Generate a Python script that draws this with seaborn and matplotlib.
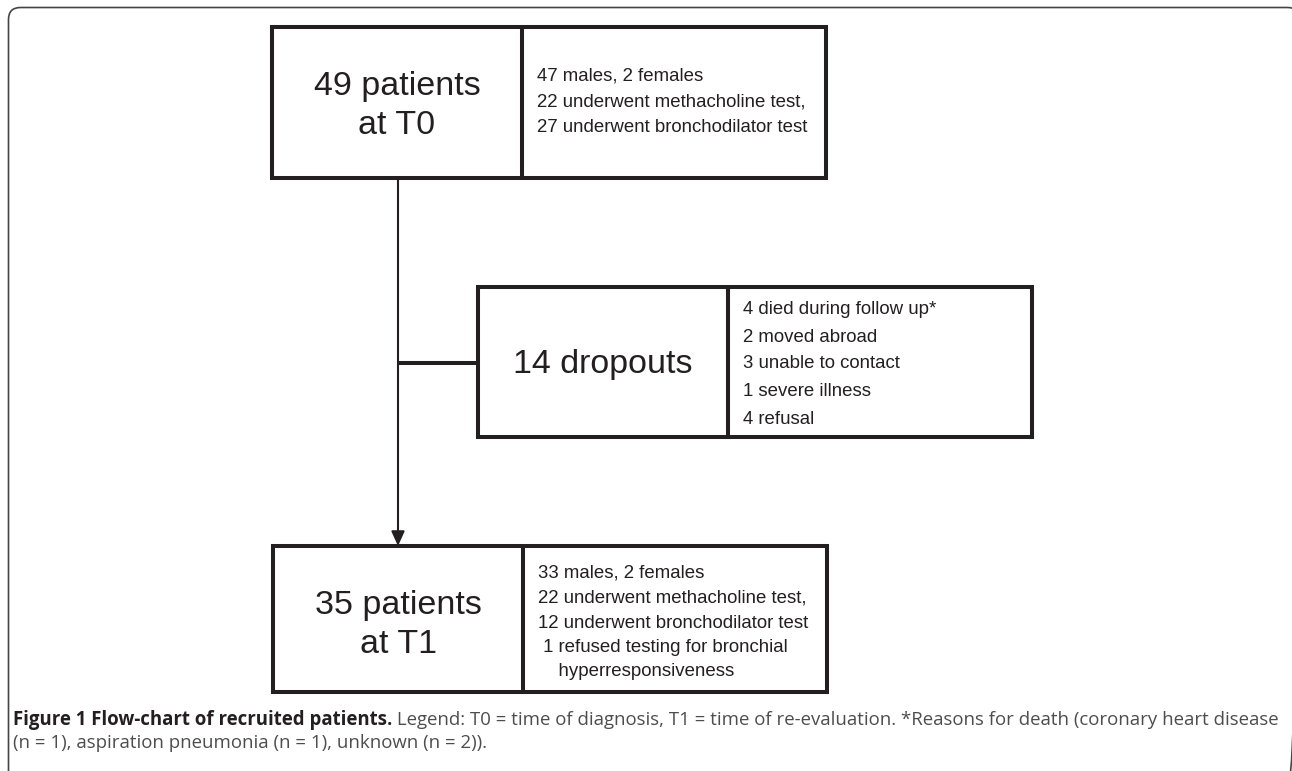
import matplotlib
matplotlib.use("Agg")
import matplotlib.pyplot as plt
import seaborn as sns
from matplotlib.patches import Rectangle, FancyBboxPatch, FancyArrowPatch

# flow-chart content
stage_titles = ["49 patients\nat T0", "14 dropouts", "35 patients\nat T1"]
t0_details = ["47 males, 2 females",
              "22 underwent methacholine test,",
              "27 underwent bronchodilator test"]
dropout_details = ["4 died during follow up*",
                   "2 moved abroad",
                   "3 unable to contact",
                   "1 severe illness",
                   "4 refusal"]
t1_details = ["33 males, 2 females",
              "22 underwent methacholine test,",
              "12 underwent bronchodilator test",
              " 1 refused testing for bronchial",
              "    hyperresponsiveness"]
caption_bold = "Figure 1 Flow-chart of recruited patients."
caption_rest = (" Legend: T0 = time of diagnosis, T1 = time of re-evaluation. "
                "*Reasons for death (coronary heart disease")
caption_line2 = "(n = 1), aspiration pneumonia (n = 1), unknown (n = 2))."

# layout (pixels, y grows downward)
boxes = [
    # x0, x1, divider, y0, y1, title y-centre, detail y positions
    (272, 826, 522, 27, 178, 106, [76, 102, 128]),
    (478, 1032, 728, 287, 437, 364, [310, 337, 364, 391, 419]),
    (273, 827, 523, 546, 692, 625, [573, 598, 623, 648, 672]),
]
details = [t0_details, dropout_details, t1_details]

sns.set_theme(style="white")
plt.rcParams['font.family'] = ['Liberation Sans', 'DejaVu Sans']

W, H = 1292, 771
fig = plt.figure(figsize=(W / 100, H / 100), dpi=100)
ax = fig.add_axes([0, 0, 1, 1])
ax.set_xlim(0, W)
ax.set_ylim(H, 0)
ax.axis("off")

ink = "#231f20"
box_lw = 2.9

# outer rounded frame (runs off the right and bottom edge)
frame = FancyBboxPatch((8.5, 7.5), 1291, 780, boxstyle="round,pad=0,rounding_size=12",
                       fill=False, edgecolor="#444444", linewidth=1.2, clip_on=False)
ax.add_patch(frame)

# connectors
arrow = FancyArrowPatch((398, 178), (398, 546), arrowstyle="-|>,head_length=0.55,head_width=0.25",
                        mutation_scale=16, color=ink, linewidth=1.5, shrinkA=0, shrinkB=0)
ax.add_patch(arrow)
ax.plot([397, 478], [363, 363], color=ink, linewidth=box_lw, solid_capstyle="butt")

for (x0, x1, xd, y0, y1, ty, dys), title, lines in zip(boxes, stage_titles, details):
    ax.add_patch(Rectangle((x0, y0), x1 - x0, y1 - y0, facecolor="white", edgecolor=ink,
                           linewidth=box_lw, joinstyle="miter", zorder=3))
    ax.plot([xd, xd], [y0, y1], color=ink, linewidth=box_lw, zorder=4, solid_capstyle="butt")
    ax.text((x0 + xd) / 2, ty, title, ha="center", va="center", fontsize=24.5,
            color=ink, linespacing=1.37, zorder=5)
    for yy, s in zip(dys, lines):
        ax.text(xd + 15, yy, s, ha="left", va="center", fontsize=13.4, color=ink, zorder=5)

# caption: bold lead-in followed by the regular legend text
cap_font = ['Open Sans', 'DejaVu Sans']
cap_size = 13.4
t_bold = ax.text(13, 720, caption_bold, ha="left", va="center", fontsize=cap_size,
                 fontweight="bold", family=cap_font, color=ink)
fig.canvas.draw()
bb = t_bold.get_window_extent(renderer=fig.canvas.get_renderer())
x_end = ax.transData.inverted().transform((bb.x1, bb.y0))[0]
ax.text(x_end, 720, caption_rest, ha="left", va="center", fontsize=cap_size,
        family=cap_font, color="#4d4d4f")
ax.text(13, 743, caption_line2, ha="left", va="center", fontsize=cap_size,
        family=cap_font, color="#4d4d4f")

fig.savefig("out.png", dpi=100)
